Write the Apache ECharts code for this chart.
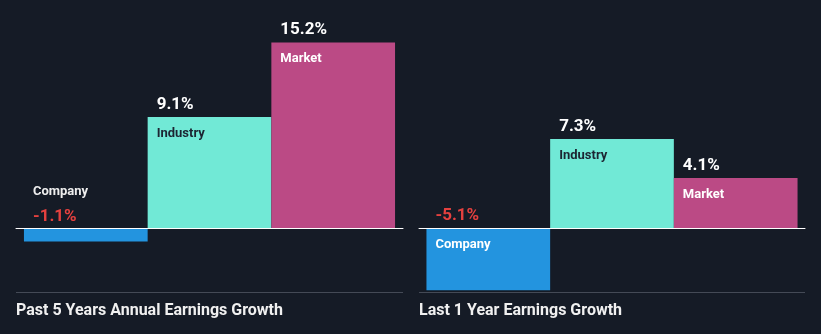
<!DOCTYPE html>
<html>
<head>
<meta charset="utf-8">
<script src="https://cdn.jsdelivr.net/npm/echarts@6/dist/echarts.min.js"></script>
<style>
  html, body { margin: 0; padding: 0; background: #151b26; }
  #chart { width: 821px; height: 334px; }
</style>
</head>
<body>
<div id="chart"></div>
<script>
// Earnings growth, %
const seriesNames = ['Company', 'Industry', 'Market'];
const past5Years = [-1.1, 9.1, 15.2];
const last1Year = [-5.1, 7.3, 4.1];
const panelTitles = ['Past 5 Years Annual Earnings Growth', 'Last 1 Year Earnings Growth'];

const barColors = ['#2394df', '#71e9d6', '#bb4a85'];
const nameColors = ['#ffffff', '#1c2532', '#ffffff'];
const positiveColor = '#ffffff';
const negativeColor = '#e5413f';

const chart = echarts.init(document.getElementById('chart'), null, { renderer: 'canvas' });

const grids = [
  { left: 16, width: 387, top: 42, height: 250 },
  { left: 419, width: 386, top: 42, height: 250 }
];

function labelFor(value, idx) {
  const valueText = value.toFixed(1) + '%';
  const small = Math.abs(value) < 3;
  const valColor = value < 0 ? negativeColor : positiveColor;
  if (small && value < 0) {
    // bar too short: name sits above the value, both above the baseline
    return {
      show: true,
      position: [9, -48],
      align: 'left',
      verticalAlign: 'top',
      formatter: '{n|' + seriesNames[idx] + '}\n{v|' + valueText + '}',
      rich: {
        n: { fontSize: 13, fontWeight: 'bold', color: '#eeeeee', lineHeight: 24, fontFamily: 'Roboto' },
        v: { fontSize: 17, fontWeight: 'bold', color: valColor, lineHeight: 26, fontFamily: 'Roboto' }
      }
    };
  }
  return {
    show: true,
    position: [9, -27],
    align: 'left',
    verticalAlign: 'top',
    formatter: '{v|' + valueText + '}\n{n|' + seriesNames[idx] + '}',
    rich: {
      v: { fontSize: 17, fontWeight: 'bold', color: valColor, lineHeight: 29, fontFamily: 'Roboto' },
      n: { fontSize: 13, fontWeight: 'bold', color: nameColors[idx], lineHeight: 29, fontFamily: 'Roboto' }
    }
  };
}

function panelSeries(values, gridIdx) {
  return values.map((v, i) => ({
    type: 'bar',
    name: seriesNames[i],
    xAxisIndex: gridIdx,
    yAxisIndex: gridIdx,
    barWidth: 123.7,
    barGap: '0%',
    itemStyle: { color: barColors[i] },
    label: labelFor(v, i),
    data: [v],
    z: 2
  }));
}

const option = {
  backgroundColor: '#151b26',
  animation: false,
  grid: grids,
  xAxis: grids.map((g, i) => ({
    type: 'category',
    gridIndex: i,
    data: [''],
    axisLine: { show: true, onZero: true, lineStyle: { color: '#ffffff', width: 1 } },
    axisTick: { show: false },
    axisLabel: { show: false },
    z: 5
  })),
  yAxis: grids.map((g, i) => ({
    type: 'value',
    gridIndex: i,
    min: -5.25,
    max: 15.25,
    show: false,
    splitLine: { show: false }
  })),
  series: [...panelSeries(past5Years, 0), ...panelSeries(last1Year, 1)],
  graphic: [
    { type: 'line', shape: { x1: 16, y1: 292.5, x2: 403, y2: 292.5 }, style: { stroke: '#444a56', lineWidth: 1 } },
    { type: 'line', shape: { x1: 419, y1: 292.5, x2: 805, y2: 292.5 }, style: { stroke: '#444a56', lineWidth: 1 } },
    { type: 'text', left: 16, top: 303, style: { text: panelTitles[0], fill: '#f0f0f0', font: 'bold 16px "Liberation Sans Narrow", "Roboto", sans-serif' } },
    { type: 'text', left: 419, top: 303, style: { text: panelTitles[1], fill: '#f0f0f0', font: 'bold 16px "Liberation Sans Narrow", "Roboto", sans-serif' } }
  ]
};

chart.setOption(option);
</script>
</body>
</html>
